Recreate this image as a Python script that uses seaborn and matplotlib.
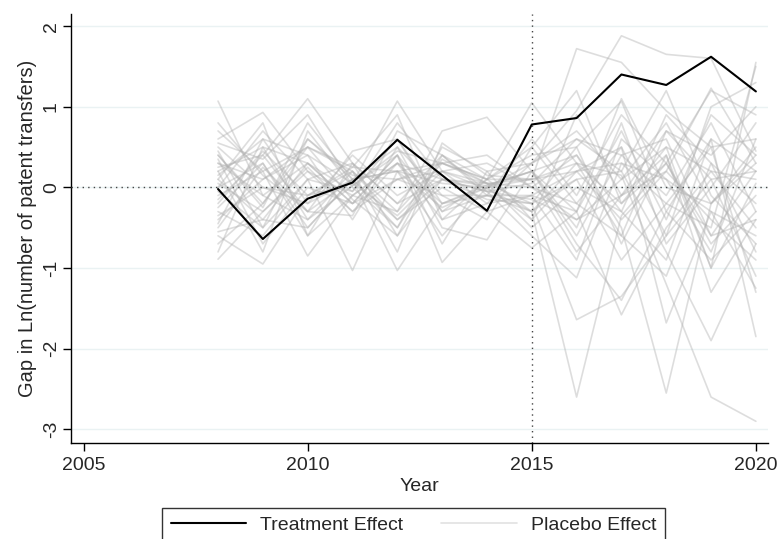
import pandas as pd
import matplotlib
matplotlib.use('Agg')
import matplotlib.pyplot as plt
import seaborn as sns
from matplotlib.lines import Line2D

years = list(range(2008, 2021))

# treatment effect (gap for treated unit)
treatment = [-0.02, -0.64, -0.14, 0.06, 0.59, 0.15, -0.29, 0.78, 0.86, 1.40, 1.27, 1.62, 1.19]

# placebo gaps, one list per control unit
p01 = [0.55, 0.35, 0.9, 0.02, 0.45, 0.3, 0.05, 0.1, 1.72, 1.55, 0.95, 0.5, 0.6]
p02 = [0.3, 0.1, 0.5, 0.25, 0.2, 0.05, 0.0, 0.3, 0.95, 1.88, 1.65, 1.6, 0.45]
p03 = [-0.2, 0.45, -0.1, 0.05, -0.35, 0.2, -0.02, -0.3, -2.6, -0.35, 0.3, -0.6, -0.4]
p04 = [0.1, -0.4, 0.3, -0.05, 0.6, -0.2, 0.03, 0.2, 0.4, -0.5, -2.55, -0.2, 0.3]
p05 = [-0.5, 0.25, -0.3, 0.1, 0.2, -0.6, 0.0, 0.1, 0.3, 0.15, -1.2, -2.6, -2.9]
p06 = [0.4, -0.2, 0.6, 0.1, -0.5, 0.35, 0.05, -0.2, -1.64, -1.35, -0.6, 0.1, 0.2]
p07 = [-0.89, -0.3, 0.2, -0.1, 0.3, 0.1, -0.05, 0.05, 0.6, 0.2, -0.8, -1.9, -0.7]
p08 = [0.2, 0.5, -0.4, 0.02, 0.4, -0.3, 0.1, 0.4, 0.5, 1.07, -0.3, 0.6, -1.85]
p09 = [-0.3, -0.6, 0.1, 0.3, -0.2, 0.4, -0.1, -0.1, 0.2, -0.4, 0.2, 1.23, 0.3]
p10 = [1.07, -0.1, 0.3, -0.2, 0.1, 0.2, 0.05, 0.0, -0.4, 0.1, 0.5, -1.0, 1.55]
p11 = [0.0, 0.3, -0.5, 0.1, 0.5, -0.1, -0.1, -0.3, 0.1, -0.9, -0.2, -0.5, 1.5]
p12 = [0.6, 0.93, 0.2, -0.3, 0.1, 0.3, 0.1, 0.5, -0.2, -0.6, 0.7, 0.4, 1.0]
p13 = [-0.6, -0.95, -0.1, 0.2, -0.4, 0.1, -0.05, -0.6, -1.12, 0.3, 0.1, -0.3, -0.6]
p14 = [0.25, 0.4, 1.1, 0.3, -0.2, 0.1, 0.02, 0.2, -0.3, -1.58, -0.5, 0.2, 0.1]
p15 = [-0.1, 0.2, -0.85, -0.1, 0.3, -0.2, -0.1, -0.2, 0.5, -0.7, 0.4, -1.3, -0.4]
p16 = [0.45, -0.5, 0.1, -1.03, 0.2, 0.3, 0.1, 0.1, 0.2, 0.5, -1.68, -0.3, -1.25]
p17 = [-0.4, 0.1, 0.4, 0.05, 1.07, 0.2, -0.2, 0.3, 0.7, 0.1, 0.8, -0.2, 0.5]
p18 = [0.15, 0.6, -0.2, 0.1, -1.03, -0.2, 0.0, -0.4, 0.2, 0.3, -0.2, 0.5, -1.3]
p19 = [-0.7, -0.2, 0.5, 0.2, -0.3, 0.7, 0.87, 0.2, -0.6, 0.4, 0.6, -0.6, 0.2]
p20 = [0.35, -0.7, 0.0, -0.2, 0.4, -0.93, -0.3, -0.75, -0.3, 0.7, -0.4, 0.9, 0.4]
p21 = [-0.25, 0.3, -0.6, 0.3, -0.6, 0.4, 0.1, 1.05, 0.3, -0.2, 0.5, 0.2, -0.5]
p22 = [0.05, -0.3, 0.25, -0.3, 0.3, -0.4, -0.2, -0.1, -0.9, 0.6, 0.1, -0.8, 0.6]
p23 = [0.5, 0.0, -0.2, 0.4, -0.1, 0.2, 0.3, 0.0, 0.4, -0.3, 0.9, 0.3, -0.2]
p24 = [-0.45, 0.6, 0.4, -0.4, 0.5, -0.5, -0.65, 0.2, -0.5, 0.8, -0.7, 0.0, 0.8]
p25 = [0.2, -0.8, 0.7, 0.0, -0.5, 0.5, 0.2, -0.4, 0.9, -0.1, 0.2, -0.4, -0.9]
p26 = [-0.15, 0.4, -0.3, 0.45, 0.6, -0.3, -0.1, 0.6, -0.1, 0.9, 0.3, 1.2, 0.9]
p27 = [0.7, 0.2, 0.5, -0.15, -0.6, 0.1, 0.05, -0.5, 0.0, -0.3, -0.9, 0.6, 0.2]
p28 = [-0.55, -0.4, -0.5, 0.1, 0.2, -0.25, 0.0, 0.2, -0.7, -1.4, -0.3, -0.9, -0.3]
p29 = [0.0, 0.7, 0.1, -0.05, 0.8, 0.1, -0.15, -0.2, 0.1, 0.2, 1.2, -0.1, -0.7]
p30 = [0.3, -0.1, -0.4, 0.2, -0.8, 0.55, 0.15, 0.1, -0.8, -0.1, 0.4, -1.0, 0.05]
p31 = [-0.8, 0.5, 0.3, -0.2, 0.4, -0.7, 0.2, 0.3, 0.6, 0.4, -0.1, 0.8, -0.3]
p32 = [0.4, -0.25, 0.8, 0.1, -0.4, 0.0, -0.3, -0.1, -0.3, 1.1, 0.0, -0.2, 0.4]
p33 = [-0.35, 0.0, -0.1, 0.25, 0.9, -0.4, 0.1, -0.3, 0.3, -0.6, -1.1, 0.3, -0.8]
p34 = [0.1, 0.8, -0.6, -0.1, -0.3, 0.3, 0.4, 0.0, -0.2, 0.5, -0.6, 1.0, 1.3]
p35 = [-0.05, -0.5, 0.6, 0.15, 0.1, -0.1, -0.4, 0.5, 1.2, -0.2, 0.3, -0.7, -0.1]
p36 = [0.8, 0.15, -0.3, -0.35, 0.7, 0.4, -0.05, -0.15, -0.4, -0.1, 0.7, 0.1, -1.1]

placebos = [p01, p02, p03, p04, p05, p06, p07, p08, p09, p10, p11, p12,
            p13, p14, p15, p16, p17, p18, p19, p20, p21, p22, p23, p24,
            p25, p26, p27, p28, p29, p30, p31, p32, p33, p34, p35, p36]

rows = []
for i, vals in enumerate(placebos):
    for yr, v in zip(years, vals):
        rows.append({'unit': i, 'year': yr, 'gap': v})
df_placebo = pd.DataFrame(rows)
df_treat = pd.DataFrame({'year': years, 'gap': treatment})

sns.set_style('white')
plt.rcParams['font.family'] = ['Liberation Sans', 'DejaVu Sans']
plt.rcParams['axes.unicode_minus'] = False

fig = plt.figure(figsize=(7.77, 5.39), dpi=100)
ax = fig.add_axes([0.0914, 0.178, 0.897, 0.796])

sns.lineplot(data=df_placebo, x='year', y='gap', units='unit', estimator=None,
             color='#b0b0b0', alpha=0.42, linewidth=1.2, ax=ax)
sns.lineplot(data=df_treat, x='year', y='gap', color='black', linewidth=1.5, ax=ax)

ax.axhline(0, color='#444444', linestyle=(0, (1, 3)), linewidth=1.0, zorder=3)
ax.axvline(2015, color='#444444', linestyle=(0, (1, 3)), linewidth=1.0, zorder=3)

ax.set_xlim(2004.72, 2020.27)
ax.set_ylim(-3.17, 2.15)
ax.set_xticks([2005, 2010, 2015, 2020])
ax.set_yticks([-3, -2, -1, 0, 1, 2])
ax.yaxis.grid(True, color='#eaf2f3', linewidth=1.0)
ax.set_axisbelow(True)
for s in ['top', 'right']:
    ax.spines[s].set_visible(False)
for s in ['left', 'bottom']:
    ax.spines[s].set_color('black')
    ax.spines[s].set_linewidth(1.0)
ax.tick_params(axis='both', direction='out', length=6, width=1, color='black',
               labelsize=14, bottom=True, left=True, pad=4)
ax.tick_params(axis='y', pad=2)
plt.setp(ax.get_yticklabels(), rotation=90, va='center')
ax.set_xlabel('Year', fontsize=14, labelpad=3)
ax.set_ylabel('Gap in Ln(number of patent transfers)', fontsize=14.5, labelpad=4)

handles = [Line2D([], [], color='black', linewidth=1.5),
           Line2D([], [], color='#e2e2e2', linewidth=1.2)]
leg = fig.legend(handles, ['Treatment Effect', 'Placebo Effect'], ncol=2,
                 loc='upper center', bbox_to_anchor=(0.532, 0.058), fontsize=14,
                 frameon=True, fancybox=False, edgecolor='black',
                 handlelength=3.9, handletextpad=0.7, columnspacing=1.95,
                 borderpad=0.45, borderaxespad=0)
leg.get_frame().set_linewidth(1.0)

fig.savefig('out.png', dpi=100)
